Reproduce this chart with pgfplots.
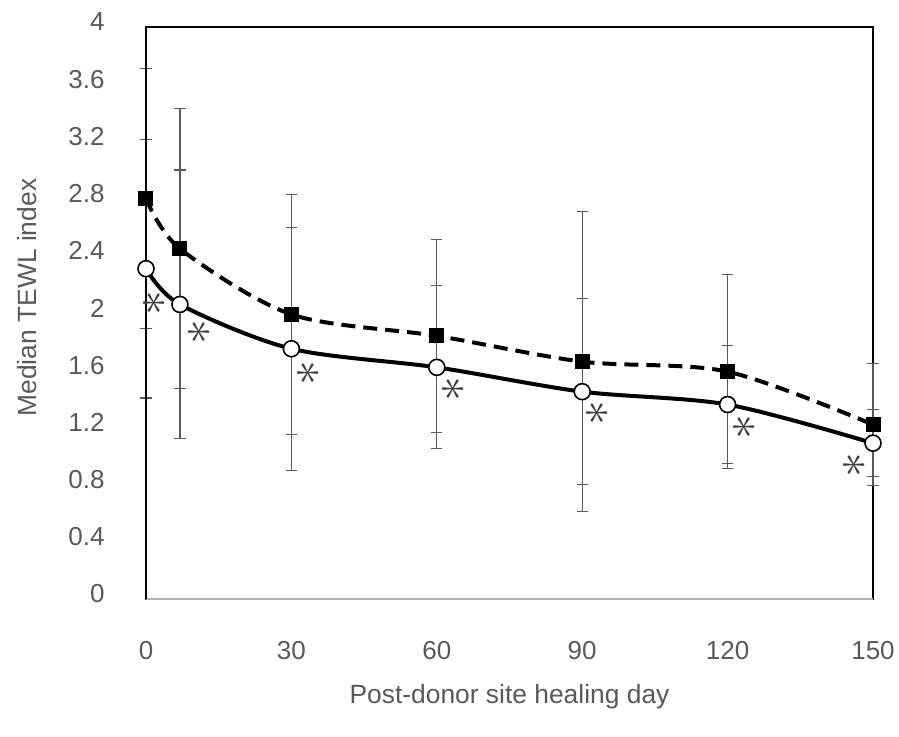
\documentclass[border=0pt]{standalone}
\usepackage{fontspec}
\setmainfont{Liberation Sans}
\usepackage{pgfplots}
\usepackage{graphicx}
\pgfplotsset{compat=1.18}
\definecolor{tickgray}{HTML}{595959}
\definecolor{errgray}{HTML}{5A5A5A}
\definecolor{astgray}{HTML}{404040}
\begin{document}
\begin{tikzpicture}
\begin{axis}[
  scale only axis, width=363.5pt, height=286pt,
  at={(0,0)}, anchor=south west,
  xmin=0, xmax=150, ymin=0, ymax=4,
  clip=false,
  xtick={0,30,60,90,120,150},
  ytick={0,0.4,0.8,1.2,1.6,2,2.4,2.8,3.2,3.6,4},
  yticklabels={0,0.4,0.8,1.2,1.6,2,2.4,2.8,3.2,3.6,4},
  major tick length=0pt,
  /pgf/number format/assume math mode=true,
  tick label style={font=\fontsize{13}{15}\selectfont, text=tickgray},
  yticklabel style={xshift=-17.2pt, yshift=2.5pt},
  xticklabel style={yshift=-17.7pt},
  axis line style={black, line width=1pt},
  xlabel={Post-donor site healing day},
  ylabel={Median TEWL index},
  label style={font=\fontsize{13.2}{15}\selectfont, text=tickgray},
  xlabel style={at={(axis description cs:0.5,-0.17)}, anchor=center},
  ylabel style={at={(axis description cs:-0.1637,0.527)}, anchor=center},
]
% error bars (drawn beneath the curves)
\addplot[draw=none, mark=none, forget plot,
  error bars/.cd, y dir=both, y explicit,
  error bar style={errgray, line width=0.6pt},
  error mark options={errgray, rotate=90, mark size=2.8pt, line width=0.6pt}]
  table[x=x, y=y, y error=e] {
x y e
0 2.80 0.91
7 2.45 0.98
30 1.99 0.84
60 1.84 0.675
90 1.66 1.05
120 1.59 0.68
150 1.22 0.425
};
\addplot[draw=none, mark=none, forget plot,
  error bars/.cd, y dir=both, y explicit,
  error bar style={errgray, line width=0.6pt},
  error mark options={errgray, rotate=90, mark size=2.8pt, line width=0.6pt}]
  table[x=x, y=y, y error=e] {
x y e
0 2.31 0.905
7 2.06 0.94
30 1.75 0.85
60 1.62 0.57
90 1.45 0.65
120 1.36 0.415
150 1.09 0.235
};
% dashed series with squares
\addplot[black, line width=2pt, smooth, tension=0.5,
  dash pattern=on 7pt off 4pt,
  mark=square*, mark size=3.5pt, mark options={solid, fill=black, line width=0.5pt}]
  table[x=x, y=y] {
x y
0 2.80
7 2.45
30 1.99
60 1.84
90 1.66
120 1.59
150 1.22
};
% solid series with circles
\addplot[black, line width=2pt, smooth, tension=0.5,
  mark=*, mark size=4pt, mark options={solid, fill=white, draw=black, line width=0.8pt}]
  table[x=x, y=y] {
x y
0 2.31
7 2.06
30 1.75
60 1.62
90 1.45
120 1.36
150 1.09
};
\draw[color=black!30, line width=1pt] (rel axis cs:0,0) -- (rel axis cs:1,0);
\draw[black, line width=1pt] (rel axis cs:0,0) -- (rel axis cs:0,1);
% significance asterisks
\tikzset{ast/.style={text=astgray, font=\fontsize{25}{25}\selectfont, inner sep=0pt}}
\node[ast, xshift=4.5pt, yshift=-17pt] at (axis cs:0,2.31) {\rotatebox{90}{$\ast$}};
\node[ast, xshift=10pt, yshift=-14pt] at (axis cs:7,2.06) {\rotatebox{90}{$\ast$}};
\node[ast, xshift=9pt, yshift=-12pt] at (axis cs:30,1.75) {\rotatebox{90}{$\ast$}};
\node[ast, xshift=8.5pt, yshift=-11pt] at (axis cs:60,1.62) {\rotatebox{90}{$\ast$}};
\node[ast, xshift=8pt, yshift=-10.5pt] at (axis cs:90,1.45) {\rotatebox{90}{$\ast$}};
\node[ast, xshift=8.5pt, yshift=-11.5pt] at (axis cs:120,1.36) {\rotatebox{90}{$\ast$}};
\node[ast, xshift=-9pt, yshift=-11pt] at (axis cs:150,1.09) {\rotatebox{90}{$\ast$}};
\end{axis}
\pgfresetboundingbox
\path (-73pt,-68.5pt) rectangle (376.5pt,299.5pt);
\end{tikzpicture}
\end{document}
